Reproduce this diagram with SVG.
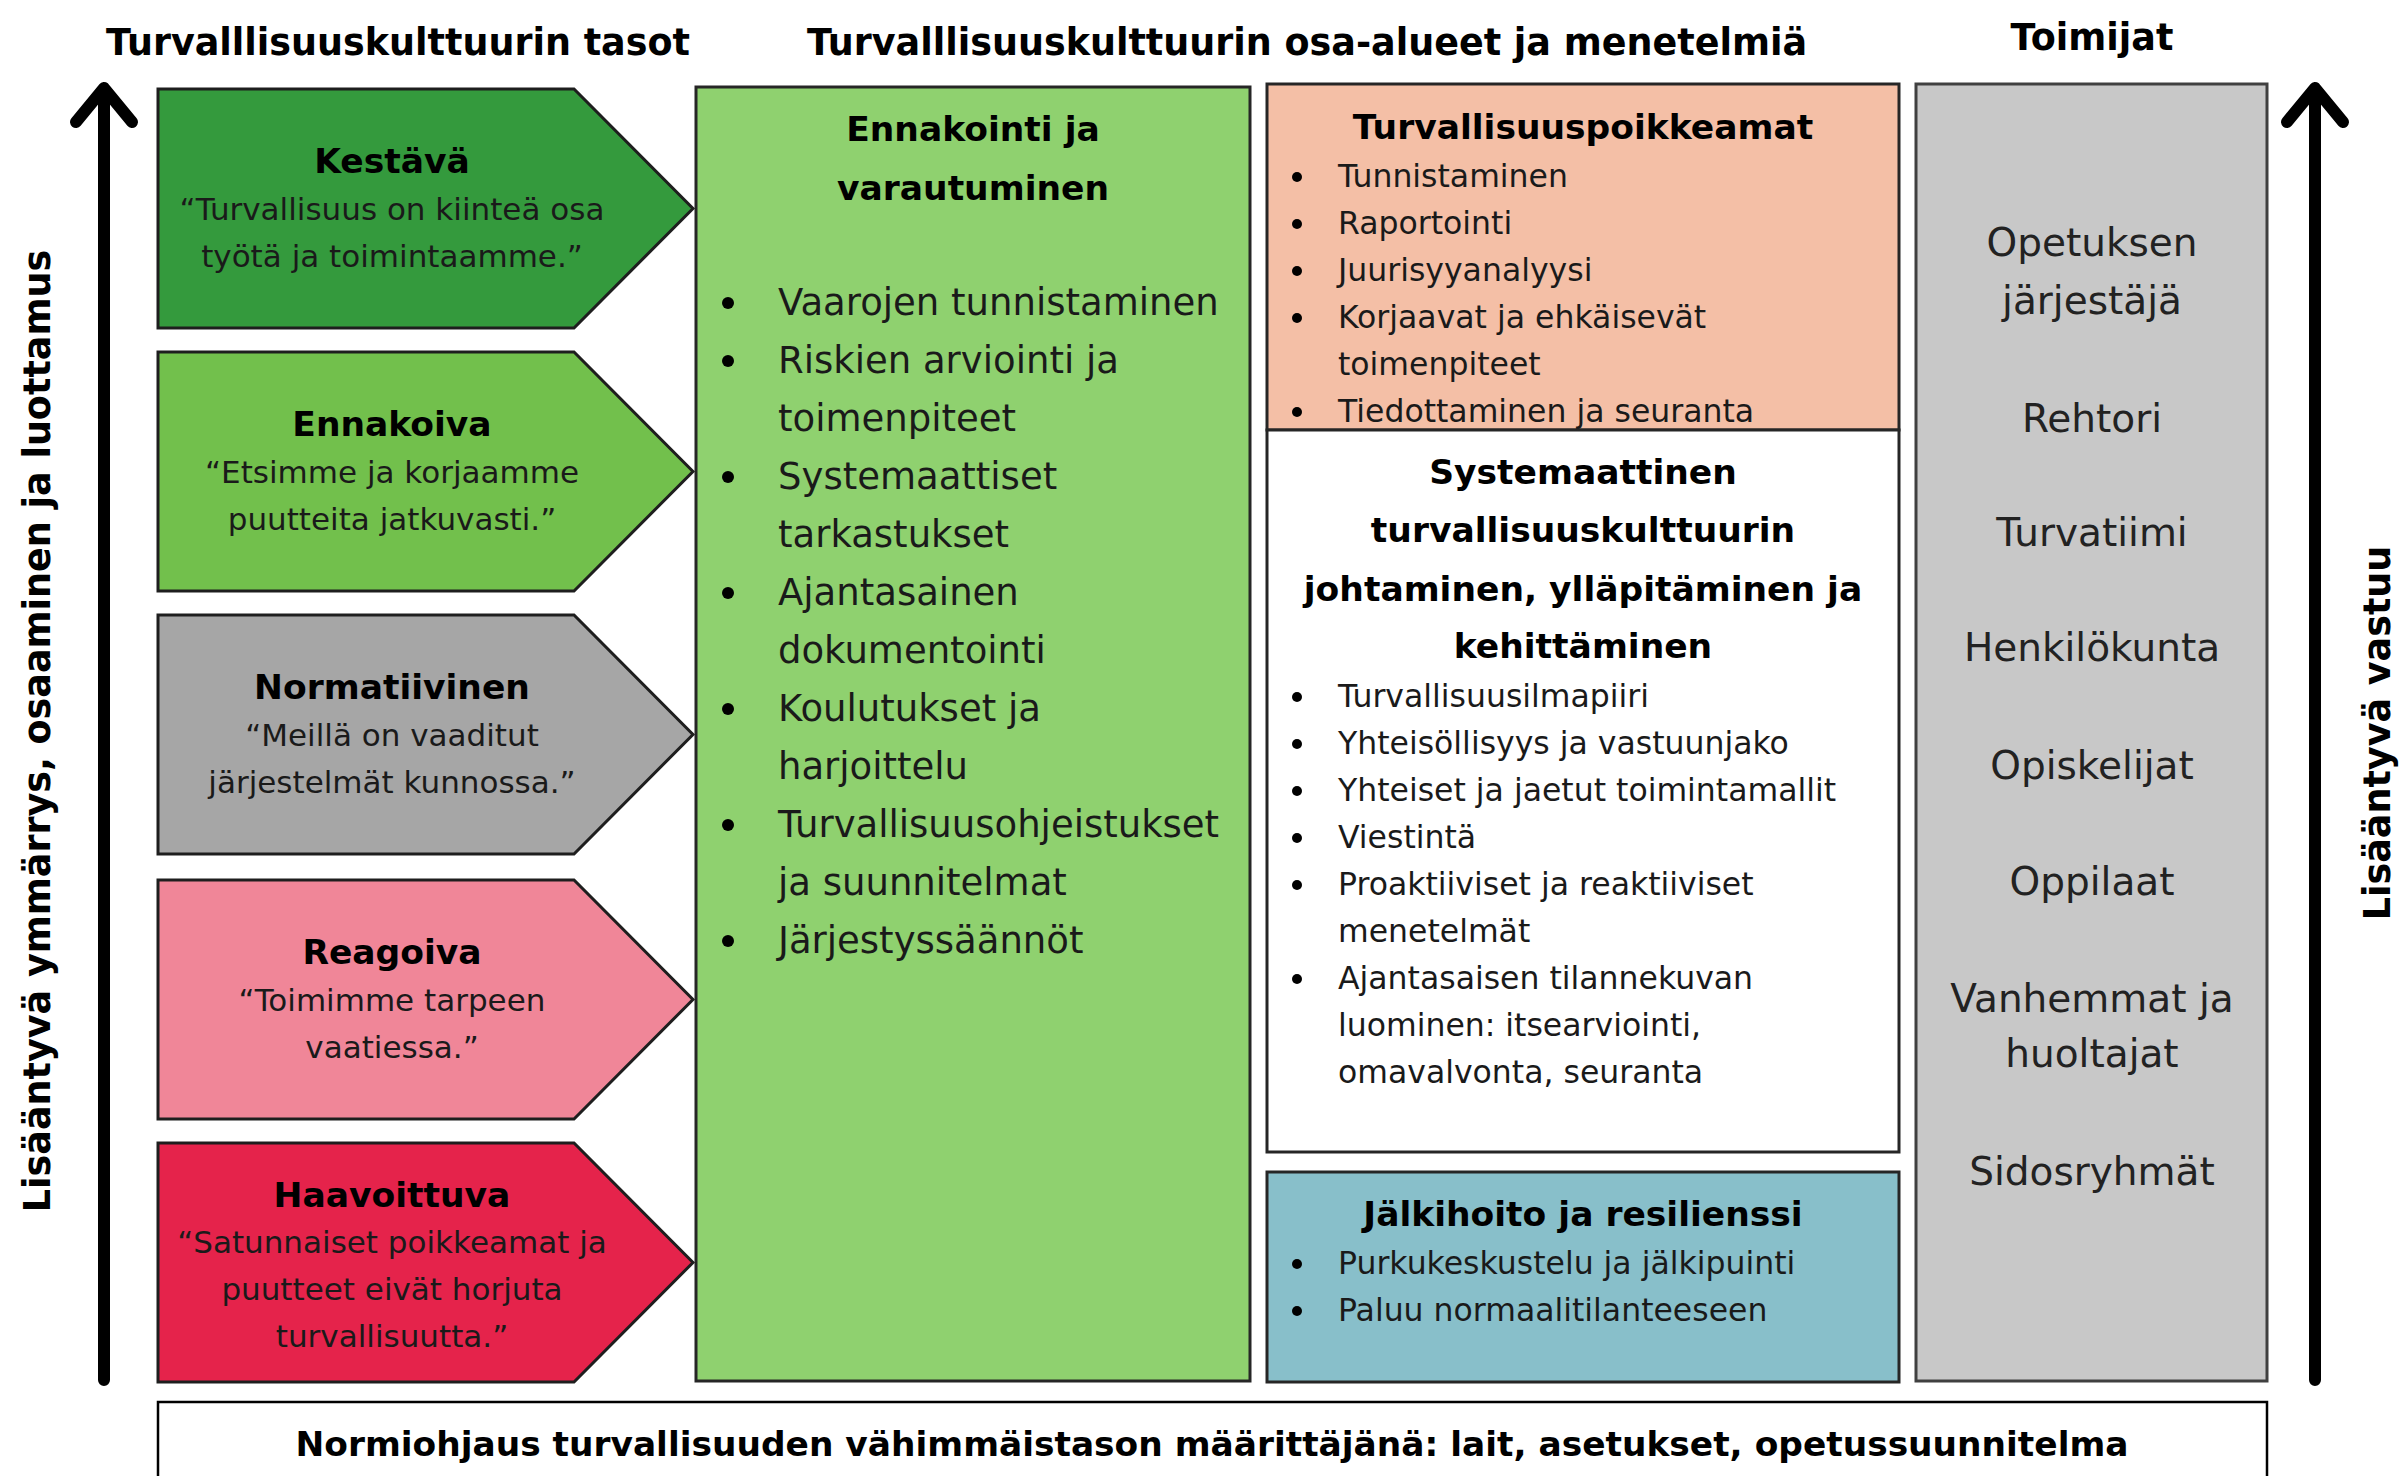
<svg xmlns="http://www.w3.org/2000/svg" width="2400" height="1476" viewBox="0 0 2400 1476">
<style>
.hdr{font-family:"DejaVu Sans",Verdana,sans-serif;font-weight:bold;font-size:36.5px;fill:#000}
.ttl{font-family:"DejaVu Sans",Verdana,sans-serif;font-weight:bold;font-size:34.5px;fill:#000;text-anchor:middle}
.quo{font-family:"DejaVu Sans",Verdana,sans-serif;font-size:31px;fill:#1a1a1a;text-anchor:middle}
.big{font-family:"DejaVu Sans",Verdana,sans-serif;font-size:37px;fill:#1a1a1a}
.itm{font-family:"DejaVu Sans",Verdana,sans-serif;font-size:31.5px;fill:#1a1a1a}
.act{font-family:"DejaVu Sans",Verdana,sans-serif;font-size:39px;fill:#222;text-anchor:middle}
.lvl{stroke:#1e1e1e;stroke-width:3;stroke-linejoin:miter}
.box{stroke:#262626;stroke-width:3}
.axis{stroke:#000;stroke-width:12;fill:none;stroke-linecap:round;stroke-linejoin:round}
</style>

<g id="headers">
<text class="hdr" x="398" y="55" text-anchor="middle">Turvalllisuuskulttuurin tasot</text>
<text class="hdr" x="1307" y="55" text-anchor="middle">Turvalllisuuskulttuurin osa-alueet ja menetelmiä</text>
<text class="hdr" x="2092" y="50" text-anchor="middle">Toimijat</text>
</g>

<g id="level-kestava">
<path class="lvl" d="M158,89 L574,89 L693,208.5 L574,328 L158,328 Z" fill="#349a3d"/>
<text class="ttl" x="392" y="173">Kestävä</text>
<text class="quo" x="392" y="220">“Turvallisuus on kiinteä osa</text>
<text class="quo" x="392" y="267">työtä ja toimintaamme.”</text>
</g>

<g id="level-ennakoiva">
<path class="lvl" d="M158,352 L574,352 L693,471.5 L574,591 L158,591 Z" fill="#72c04c"/>
<text class="ttl" x="392" y="436">Ennakoiva</text>
<text class="quo" x="392" y="483">“Etsimme ja korjaamme</text>
<text class="quo" x="392" y="530">puutteita jatkuvasti.”</text>
</g>

<g id="level-normatiivinen">
<path class="lvl" d="M158,615 L574,615 L693,734.5 L574,854 L158,854 Z" fill="#a6a6a6"/>
<text class="ttl" x="392" y="699">Normatiivinen</text>
<text class="quo" x="392" y="746">“Meillä on vaaditut</text>
<text class="quo" x="392" y="793">järjestelmät kunnossa.”</text>
</g>

<g id="level-reagoiva">
<path class="lvl" d="M158,880 L574,880 L693,999.5 L574,1119 L158,1119 Z" fill="#f08698"/>
<text class="ttl" x="392" y="964">Reagoiva</text>
<text class="quo" x="392" y="1011">“Toimimme tarpeen</text>
<text class="quo" x="392" y="1058">vaatiessa.”</text>
</g>

<g id="level-haavoittuva">
<path class="lvl" d="M158,1143 L574,1143 L693,1262.5 L574,1382 L158,1382 Z" fill="#e5234b"/>
<text class="ttl" x="392" y="1207">Haavoittuva</text>
<text class="quo" x="392" y="1253">“Satunnaiset poikkeamat ja</text>
<text class="quo" x="392" y="1300">puutteet eivät horjuta</text>
<text class="quo" x="392" y="1347">turvallisuutta.”</text>
</g>

<g id="ennakointi">
<rect class="box" x="696" y="87" width="554" height="1294" fill="#8fd16f"/>
<text class="ttl" x="973" y="141">Ennakointi ja</text>
<text class="ttl" x="973" y="200">varautuminen</text>
<g fill="#000">
<circle cx="728" cy="303" r="6"/><circle cx="728" cy="361" r="6"/><circle cx="728" cy="477" r="6"/><circle cx="728" cy="593" r="6"/><circle cx="728" cy="709" r="6"/><circle cx="728" cy="825" r="6"/><circle cx="728" cy="941" r="6"/>
</g>
<text class="big" x="778" y="315">Vaarojen tunnistaminen</text>
<text class="big" x="778" y="373">Riskien arviointi ja</text>
<text class="big" x="778" y="431">toimenpiteet</text>
<text class="big" x="778" y="489">Systemaattiset</text>
<text class="big" x="778" y="547">tarkastukset</text>
<text class="big" x="778" y="605">Ajantasainen</text>
<text class="big" x="778" y="663">dokumentointi</text>
<text class="big" x="778" y="721">Koulutukset ja</text>
<text class="big" x="778" y="779">harjoittelu</text>
<text class="big" x="778" y="837">Turvallisuusohjeistukset</text>
<text class="big" x="778" y="895">ja suunnitelmat</text>
<text class="big" x="778" y="953">Järjestyssäännöt</text>
</g>

<g id="poikkeamat">
<rect class="box" x="1267" y="84" width="632" height="346" fill="#f4bfa6"/>
<text class="ttl" x="1583" y="139">Turvallisuuspoikkeamat</text>
<g fill="#000">
<circle cx="1297" cy="177" r="5"/><circle cx="1297" cy="224" r="5"/><circle cx="1297" cy="271" r="5"/><circle cx="1297" cy="318" r="5"/><circle cx="1297" cy="412" r="5"/>
</g>
<text class="itm" x="1338" y="187">Tunnistaminen</text>
<text class="itm" x="1338" y="234">Raportointi</text>
<text class="itm" x="1338" y="281">Juurisyyanalyysi</text>
<text class="itm" x="1338" y="328">Korjaavat ja ehkäisevät</text>
<text class="itm" x="1338" y="375">toimenpiteet</text>
<text class="itm" x="1338" y="422">Tiedottaminen ja seuranta</text>
</g>

<g id="systemaattinen">
<rect class="box" x="1267" y="430" width="632" height="722" fill="#fff"/>
<text class="ttl" x="1583" y="484">Systemaattinen</text>
<text class="ttl" x="1583" y="542">turvallisuuskulttuurin</text>
<text class="ttl" x="1583" y="601">johtaminen, ylläpitäminen ja</text>
<text class="ttl" x="1583" y="658">kehittäminen</text>
<g fill="#000">
<circle cx="1297" cy="697" r="5"/><circle cx="1297" cy="744" r="5"/><circle cx="1297" cy="791" r="5"/><circle cx="1297" cy="838" r="5"/><circle cx="1297" cy="885" r="5"/><circle cx="1297" cy="979" r="5"/>
</g>
<text class="itm" x="1338" y="707">Turvallisuusilmapiiri</text>
<text class="itm" x="1338" y="754">Yhteisöllisyys ja vastuunjako</text>
<text class="itm" x="1338" y="801">Yhteiset ja jaetut toimintamallit</text>
<text class="itm" x="1338" y="848">Viestintä</text>
<text class="itm" x="1338" y="895">Proaktiiviset ja reaktiiviset</text>
<text class="itm" x="1338" y="942">menetelmät</text>
<text class="itm" x="1338" y="989">Ajantasaisen tilannekuvan</text>
<text class="itm" x="1338" y="1036">luominen: itsearviointi,</text>
<text class="itm" x="1338" y="1083">omavalvonta, seuranta</text>
</g>

<g id="jalkihoito">
<rect class="box" x="1267" y="1172" width="632" height="210" fill="#88bfca"/>
<text class="ttl" x="1583" y="1226">Jälkihoito ja resilienssi</text>
<g fill="#000">
<circle cx="1297" cy="1264" r="5"/><circle cx="1297" cy="1311" r="5"/>
</g>
<text class="itm" x="1338" y="1274">Purkukeskustelu ja jälkipuinti</text>
<text class="itm" x="1338" y="1321">Paluu normaalitilanteeseen</text>
</g>

<g id="toimijat">
<rect x="1916" y="84" width="351" height="1297" fill="#c8c8c8" stroke="#404040" stroke-width="3"/>
<text class="act" x="2092" y="256">Opetuksen</text>
<text class="act" x="2092" y="314">järjestäjä</text>
<text class="act" x="2092" y="432">Rehtori</text>
<text class="act" x="2092" y="546">Turvatiimi</text>
<text class="act" x="2092" y="661">Henkilökunta</text>
<text class="act" x="2092" y="779">Opiskelijat</text>
<text class="act" x="2092" y="895">Oppilaat</text>
<text class="act" x="2092" y="1012">Vanhemmat ja</text>
<text class="act" x="2092" y="1067">huoltajat</text>
<text class="act" x="2092" y="1185">Sidosryhmät</text>
</g>

<g id="normiohjaus">
<rect x="158" y="1402" width="2109" height="110" fill="#fff" stroke="#000" stroke-width="2.5"/>
<text class="ttl" x="1212" y="1456" textLength="1833" lengthAdjust="spacingAndGlyphs">Normiohjaus turvallisuuden vähimmäistason määrittäjänä: lait, asetukset, opetussuunnitelma</text>
</g>

<g id="connectors">
<path class="axis" d="M104,1380 L104,90 M76,122 L104,88 L132,122"/>
<path class="axis" d="M2315,1380 L2315,90 M2287,122 L2315,88 L2343,122"/>
</g>

<g id="axis-labels">
<text class="hdr" font-size="36.3" transform="translate(50,731) rotate(-90)" text-anchor="middle">Lisääntyvä ymmärrys, osaaminen ja luottamus</text>
<text class="hdr" transform="translate(2390,733) rotate(-90)" text-anchor="middle">Lisääntyvä vastuu</text>
</g>
</svg>
